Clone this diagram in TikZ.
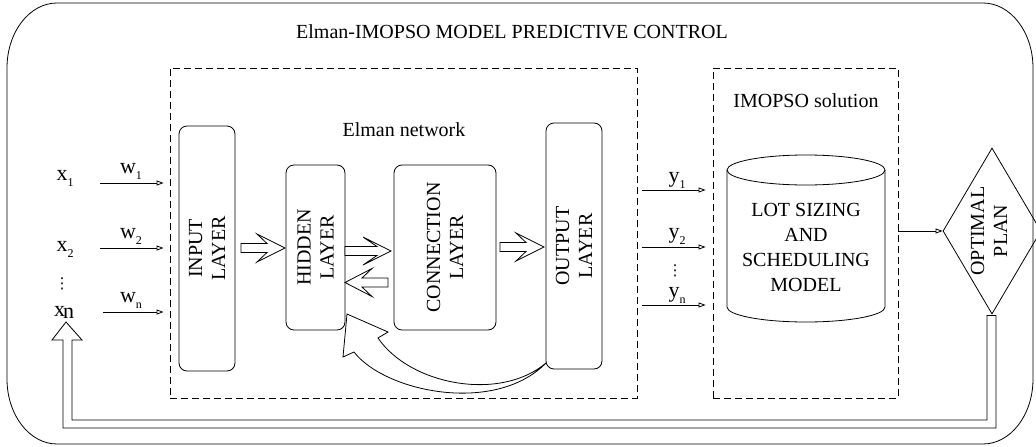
\documentclass[tikz,border=0pt]{standalone}
\usepackage{fontspec}
\setmainfont{Liberation Serif}
\newfontfamily\dejavu{DejaVu Sans}
\usetikzlibrary{arrows.meta,shapes.geometric,calc}
\newcommand{\lowsub}[1]{\raisebox{-6pt}{\fontsize{12}{12}\selectfont #1}}
\begin{document}
\begin{tikzpicture}[x=1pt,y=-1pt,line width=0.8pt,
  big/.style={font=\fontsize{20}{23}\selectfont},
  lbl/.style={font=\fontsize{22}{22}\selectfont, inner sep=0pt},
  dots/.style={font=\dejavu\fontsize{15}{15}\selectfont, inner sep=0pt},
  lay/.style={draw, rounded corners=8pt, rotate=90, align=center, inner sep=0pt, big},
  grp/.style={draw, dash pattern=on 7pt off 4pt, inner sep=0pt},
  tip/.style={-{Triangle[open,length=7pt,width=5pt]}},
  blk/.style={draw, fill=white, line join=miter}]
\useasboundingbox (0,0) rectangle (1036,447);
\clip (0,0) rectangle (1036,447);
% outer frame
\draw (57,3) -- (983,3) .. controls (1010.6,3) and (1033,32.1) .. (1033,68)
  -- (1033,379) .. controls (1033,414.9) and (1010.6,444) .. (983,444)
  -- (57,444) .. controls (29.4,444) and (7,414.9) .. (7,379)
  -- (7,68) .. controls (7,32.1) and (29.4,3) .. (57,3) -- cycle;
\node[big] (title) at (512,32) {Elman-IMOPSO MODEL PREDICTIVE CONTROL};
% groups
\node[grp, minimum width=467pt, minimum height=330pt] (elman) at (403.5,233) {};
\node[big] (elmanlbl) at (404,130) {Elman network};
\node[grp, minimum width=185pt, minimum height=330pt] (imopso) at (805.5,233) {};
\node[big] (imolbl) at (806,101) {IMOPSO solution};
% layers
\node[lay, minimum width=245pt, minimum height=56pt] (input) at (207,248.5) {INPUT\\LAYER};
\node[lay, minimum width=165pt, minimum height=59pt] (hidden) at (315.5,247.5) {HIDDEN\\LAYER};
\node[lay, minimum width=165pt, minimum height=102pt] (conn) at (445,247.5) {CONNECTION\\LAYER};
\node[lay, minimum width=246pt, minimum height=56pt] (output) at (574,246) {OUTPUT\\LAYER};
% block arrows
\draw[blk] (241,243.5) -- (267,243.5) -- (257,234) -- (285,248) -- (257,262) -- (267,252.5) -- (241,252.5) -- cycle;
\draw[blk] (345,246.5) -- (377,246.5) -- (363,237) -- (391,251) -- (363,265) -- (377,255.5) -- (345,255.5) -- cycle;
\draw[blk] (388,278) -- (362,278) -- (372,268.5) -- (345,282.5) -- (372,296.5) -- (362,287) -- (388,287) -- cycle;
\draw[blk] (500,242.5) -- (526,242.5) -- (516,233) -- (544,247) -- (516,261) -- (526,251.5) -- (500,251.5) -- cycle;
% curved feedback arrow output -> hidden
\draw[blk] (347,314) -- (388,332) -- (378,338)
  .. controls (410,385) and (500,402) .. (546,363)
  .. controls (495,415) and (385,392) .. (354,352) -- (343,357) -- cycle;
% inputs
\node[lbl] (x1) at (65,178) {x\lowsub{1}};
\node[lbl] (x2) at (65,249) {x\lowsub{2}};
\node[dots] (xd) at (62,284) {⋮};
\node[lbl] (xn) at (64,312) {x\kern-2pt\raisebox{-2pt}{n}};
\coordinate (a1) at (100,183);
\coordinate (a2) at (100,248);
\coordinate (an) at (103,312);
\draw[tip, shorten >=6pt] (a1) -- (a1 -| elman.west);
\draw[tip, shorten >=6pt] (a2) -- (a2 -| elman.west);
\draw[tip, shorten >=6pt] (an) -- (an -| elman.west);
\node[lbl] (w1) at (131,171) {w\lowsub{1}};
\node[lbl] (w2) at (131,236) {w\lowsub{2}};
\node[lbl] (wn) at (131,300) {w\lowsub{n}};
% outputs
\coordinate (b1) at (642,190);
\coordinate (b2) at (642,247);
\coordinate (bn) at (642,305);
\draw[tip, shorten >=7pt] (b1) -- (b1 -| imopso.west);
\draw[tip, shorten >=7pt] (b2) -- (b2 -| imopso.west);
\draw[tip, shorten >=7pt] (bn) -- (bn -| imopso.west);
\node[lbl] (y1) at (677,180) {y\lowsub{1}};
\node[lbl] (y2) at (677,236) {y\lowsub{2}};
\node[dots] (yd) at (675,271) {⋮};
\node[lbl] (yn) at (677,295) {y\lowsub{n}};
% model cylinder
\draw (806,170) ellipse [x radius=79, y radius=15];
\draw (727,170) -- (727,307) arc[start angle=180, end angle=0, x radius=79, y radius=15] -- (885,170);
\node[font=\fontsize{20}{25}\selectfont, align=center] (model) at (806,247) {LOT SIZING\\AND\\SCHEDULING\\MODEL};
% optimal plan
\node[draw, diamond, minimum width=98pt, minimum height=166pt, inner sep=0pt] (plan) at (992,231) {};
\node[big, rotate=90, align=center] (plantext) at (989,231) {OPTIMAL\\PLAN};
\draw[tip] (imopso.east |- plan.west) -- (plan.west);
% feedback to inputs
\draw[blk] ($(plan.south)+(-5,1)$) -- ($(plan.south)+(4,1)$) -- (996,428) -- (63,428) -- (63,340) -- (52,340)
  -- (66,322) -- (82,340) -- (72,340) -- (72,420) -- (987,420) -- cycle;
\end{tikzpicture}
\end{document}
